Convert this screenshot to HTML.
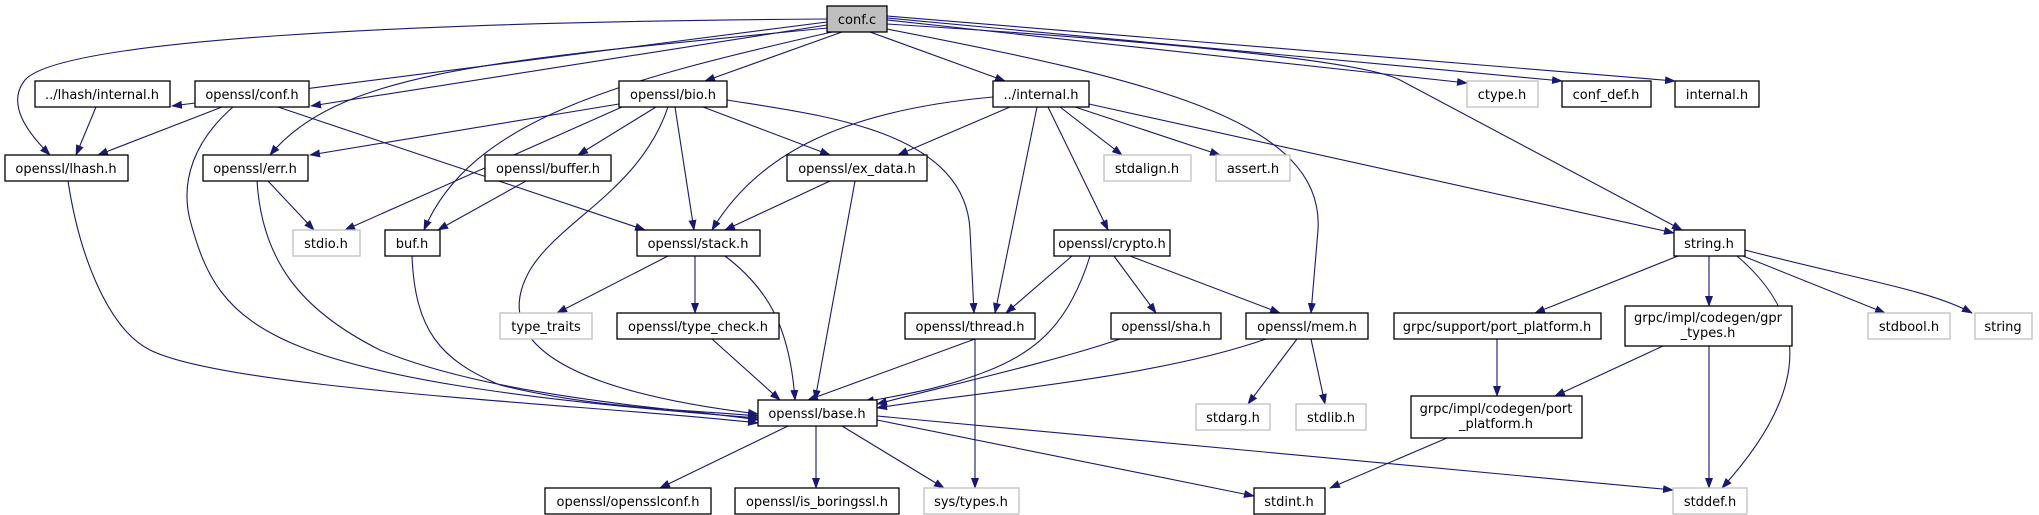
<!DOCTYPE html>
<html><head><meta charset="utf-8"><style>
html,body{margin:0;padding:0;background:#fff;}
svg{display:block;}
text{font-family:"DejaVu Sans",sans-serif;font-size:13px;fill:#000;}
.e{fill:none;stroke:#191970;stroke-width:1.1;marker-end:url(#a);}
.n{fill:#fff;stroke:#000;stroke-width:1.3;}
.g{fill:#fff;stroke:#bfbfbf;stroke-width:1.3;}
</style></head><body>
<svg width="2039" height="515" viewBox="0 0 2039 515" xmlns="http://www.w3.org/2000/svg">
<defs><marker id="a" markerWidth="11" markerHeight="8" refX="10" refY="4" orient="auto" markerUnits="userSpaceOnUse"><path d="M0,0 L11,4 L0,8 z" fill="#191970"/></marker></defs>
<!-- edges from conf.c -->
<path class="e" d="M827,19 C 400,22 60,40 25,80 C 5,105 30,135 50,155"/>
<path class="e" d="M827,22 L172,106"/>
<path class="e" d="M827,25 L311,106"/>
<path class="e" d="M828,28 C 500,60 340,70 270,155"/>
<path class="e" d="M832,32 C 620,80 470,120 424,230"/>
<path class="e" d="M842,32 L705,81"/>
<path class="e" d="M870,32 L1005,81"/>
<path class="e" d="M887,29 C 1150,80 1325,120 1318,230 L1311,313"/>
<path class="e" d="M887,20 L1467,83"/>
<path class="e" d="M887,18 L1562,81"/>
<path class="e" d="M887,16 L1675,81"/>
<path class="e" d="M887,24 C 1300,50 1380,70 1400,80 L1682,230"/>
<path class="e" d="M1089,104 L1674,233"/>
<!-- lhash / conf.h -->
<path class="e" d="M96,107 L76,155"/>
<path class="e" d="M222,107 L98,155"/>
<path class="e" d="M233,107 C 195,140 180,180 190,220 C 220,330 260,380 758,418"/>
<path class="e" d="M278,107 L645,230"/>
<!-- bio.h -->
<path class="e" d="M619,104 L310,155"/>
<path class="e" d="M622,107 L345,230"/>
<path class="e" d="M656,107 L578,155"/>
<path class="e" d="M668,107 C 640,190 560,220 530,270 C 490,340 560,390 758,414"/>
<path class="e" d="M675,107 L694,230"/>
<path class="e" d="M703,107 L830,155"/>
<path class="e" d="M727,100 C 820,115 965,130 970,230 L974,313"/>
<!-- err.h, lhash.h, buffer, buf -->
<path class="e" d="M268,181 L314,230"/>
<path class="e" d="M257,181 C 262,260 300,310 380,350 C 500,400 700,410 758,420"/>
<path class="e" d="M68,181 C 80,260 110,330 150,350 C 230,390 600,405 758,423"/>
<path class="e" d="M526,181 L438,230"/>
<path class="e" d="M412,256 C 415,330 440,360 500,385 C 600,410 700,410 758,416"/>
<!-- ex_data, internal -->
<path class="e" d="M830,181 L725,230"/>
<path class="e" d="M855,181 L815,400"/>
<path class="e" d="M993,97 C 850,110 760,150 712,230"/>
<path class="e" d="M1010,107 L898,155"/>
<path class="e" d="M1037,107 L995,313"/>
<path class="e" d="M1048,107 L1108,230"/>
<path class="e" d="M1060,107 L1122,155"/>
<path class="e" d="M1075,107 L1220,155"/>
<!-- stack -->
<path class="e" d="M668,256 L557,313"/>
<path class="e" d="M695,256 L695,313"/>
<path class="e" d="M725,256 C 770,290 790,330 795,400"/>
<path class="e" d="M712,339 L780,400"/>
<path class="e" d="M975,339 L808,400"/>
<path class="e" d="M975,339 L975,488"/>
<!-- crypto -->
<path class="e" d="M1072,256 L1006,313"/>
<path class="e" d="M1090,256 C 1070,320 1040,350 990,370 C 940,390 900,395 864,402"/>
<path class="e" d="M1114,256 L1156,313"/>
<path class="e" d="M1130,256 L1280,313"/>
<path class="e" d="M1120,339 C 1060,360 950,385 877,404"/>
<path class="e" d="M1266,339 C 1150,380 950,395 877,408"/>
<path class="e" d="M1297,339 L1248,404"/>
<path class="e" d="M1311,339 L1325,404"/>
<!-- base.h out -->
<path class="e" d="M788,426 L660,488"/>
<path class="e" d="M816,426 L816,488"/>
<path class="e" d="M842,426 L944,488"/>
<path class="e" d="M877,420 L1254,496"/>
<path class="e" d="M877,416 L1673,490"/>
<!-- string.h -->
<path class="e" d="M1678,256 L1535,313"/>
<path class="e" d="M1709,256 L1709,306"/>
<path class="e" d="M1737,256 C 1800,310 1820,380 1722,488"/>
<path class="e" d="M1743,256 L1885,313"/>
<path class="e" d="M1745,250 C 1860,280 1930,290 1972,313"/>
<path class="e" d="M1497,339 L1497,396"/>
<path class="e" d="M1663,346 L1555,396"/>
<path class="e" d="M1709,346 L1709,488"/>
<path class="e" d="M1447,438 L1330,488"/>
<!-- nodes -->
<rect x="827" y="6" width="60" height="26" fill="#bfbfbf" stroke="#000" stroke-width="1.3"/><text x="857" y="24" text-anchor="middle">conf.c</text>
<rect class="n" x="35" y="81" width="135" height="26"/><text x="102" y="99" text-anchor="middle">../lhash/internal.h</text>
<rect class="n" x="195" y="81" width="114" height="26"/><text x="252" y="99" text-anchor="middle">openssl/conf.h</text>
<rect class="n" x="619" y="81" width="108" height="26"/><text x="673" y="99" text-anchor="middle">openssl/bio.h</text>
<rect class="n" x="993" y="81" width="96" height="26"/><text x="1041" y="99" text-anchor="middle">../internal.h</text>
<rect class="g" x="1467" y="81" width="71" height="26"/><text x="1502" y="99" text-anchor="middle">ctype.h</text>
<rect class="n" x="1562" y="81" width="89" height="26"/><text x="1606" y="99" text-anchor="middle">conf_def.h</text>
<rect class="n" x="1675" y="81" width="84" height="26"/><text x="1717" y="99" text-anchor="middle">internal.h</text>
<rect class="n" x="5" y="155" width="123" height="26"/><text x="66" y="173" text-anchor="middle">openssl/lhash.h</text>
<rect class="n" x="203" y="155" width="105" height="26"/><text x="255" y="173" text-anchor="middle">openssl/err.h</text>
<rect class="n" x="485" y="155" width="126" height="26"/><text x="548" y="173" text-anchor="middle">openssl/buffer.h</text>
<rect class="n" x="787" y="155" width="140" height="26"/><text x="857" y="173" text-anchor="middle">openssl/ex_data.h</text>
<rect class="g" x="1104" y="155" width="87" height="26"/><text x="1147" y="173" text-anchor="middle">stdalign.h</text>
<rect class="g" x="1216" y="155" width="74" height="26"/><text x="1253" y="173" text-anchor="middle">assert.h</text>
<rect class="g" x="293" y="230" width="67" height="26"/><text x="326" y="248" text-anchor="middle">stdio.h</text>
<rect class="n" x="385" y="230" width="55" height="26"/><text x="412" y="248" text-anchor="middle">buf.h</text>
<rect class="n" x="637" y="230" width="123" height="26"/><text x="698" y="248" text-anchor="middle">openssl/stack.h</text>
<rect class="n" x="1054" y="230" width="116" height="26"/><text x="1112" y="248" text-anchor="middle">openssl/crypto.h</text>
<rect class="n" x="1674" y="230" width="71" height="26"/><text x="1709" y="248" text-anchor="middle">string.h</text>
<rect class="g" x="500" y="313" width="92" height="26"/><text x="546" y="331" text-anchor="middle">type_traits</text>
<rect class="n" x="617" y="313" width="162" height="26"/><text x="698" y="331" text-anchor="middle">openssl/type_check.h</text>
<rect class="n" x="905" y="313" width="130" height="26"/><text x="970" y="331" text-anchor="middle">openssl/thread.h</text>
<rect class="n" x="1111" y="313" width="110" height="26"/><text x="1166" y="331" text-anchor="middle">openssl/sha.h</text>
<rect class="n" x="1246" y="313" width="122" height="26"/><text x="1307" y="331" text-anchor="middle">openssl/mem.h</text>
<rect class="n" x="1394" y="313" width="207" height="26"/><text x="1497" y="331" text-anchor="middle">grpc/support/port_platform.h</text>
<rect class="n" x="1625" y="306" width="167" height="40"/><text x="1708" y="322" text-anchor="middle">grpc/impl/codegen/gpr</text><text x="1708" y="337" text-anchor="middle">_types.h</text>
<rect class="g" x="1868" y="313" width="82" height="26"/><text x="1909" y="331" text-anchor="middle">stdbool.h</text>
<rect class="g" x="1975" y="313" width="57" height="26"/><text x="2003" y="331" text-anchor="middle">string</text>
<rect class="n" x="758" y="400" width="119" height="26"/><text x="817" y="418" text-anchor="middle">openssl/base.h</text>
<rect class="g" x="1196" y="404" width="74" height="26"/><text x="1233" y="422" text-anchor="middle">stdarg.h</text>
<rect class="g" x="1296" y="404" width="70" height="26"/><text x="1331" y="422" text-anchor="middle">stdlib.h</text>
<rect class="n" x="1411" y="396" width="171" height="42"/><text x="1496" y="413" text-anchor="middle">grpc/impl/codegen/port</text><text x="1496" y="428" text-anchor="middle">_platform.h</text>
<rect class="n" x="545" y="488" width="166" height="26"/><text x="628" y="506" text-anchor="middle">openssl/opensslconf.h</text>
<rect class="n" x="735" y="488" width="164" height="26"/><text x="817" y="506" text-anchor="middle">openssl/is_boringssl.h</text>
<rect class="g" x="924" y="488" width="95" height="26"/><text x="971" y="506" text-anchor="middle">sys/types.h</text>
<rect class="n" x="1254" y="488" width="71" height="26"/><text x="1289" y="506" text-anchor="middle">stdint.h</text>
<rect class="g" x="1673" y="488" width="74" height="26"/><text x="1710" y="506" text-anchor="middle">stddef.h</text>
</svg>
</body></html>
